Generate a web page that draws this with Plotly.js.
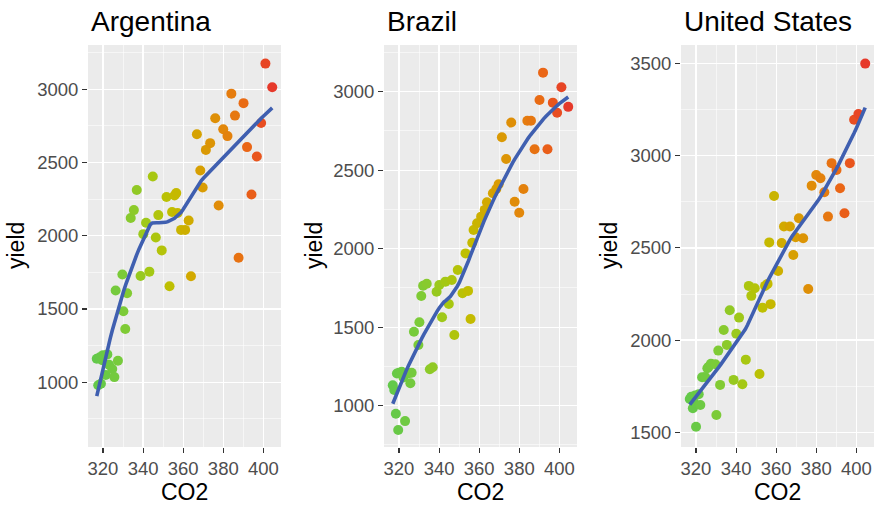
<!DOCTYPE html>
<html><head><meta charset="utf-8">
<script src="https://cdn.plot.ly/plotly-3.0.1.min.js"></script>
<style>html,body{margin:0;padding:0;background:#fff}#chart{width:876px;height:505px}</style>
</head><body><div id="chart"></div>
<script>
// ---------- data ----------
const countries = ['Argentina', 'Brazil', 'United States'];
const co2 = [316.91, 317.64, 318.45, 318.99, 319.62, 320.04, 321.37, 322.18, 323.05, 324.62,
  325.68, 326.32, 327.46, 329.68, 330.19, 331.12, 332.03, 333.84, 335.41, 336.84,
  338.76, 340.12, 341.48, 343.15, 344.85, 346.35, 347.61, 349.31, 351.69, 353.20,
  354.45, 355.70, 356.54, 357.21, 358.96, 360.97, 362.74, 363.88, 366.84, 368.54,
  369.71, 371.32, 373.45, 375.98, 377.70, 379.98, 382.09, 384.02, 385.83, 387.64,
  390.10, 391.85, 394.06, 396.74, 398.87, 401.01, 404.41];
const yieldArgentina = [1160, 980, 1170, 990, 1150, 1185, 1050, 1190, 1120, 1090,
  1035, 1626, 1147, 1735, 1485, 1364, 1608, 2121, 2175, 2312,
  1725, 2011, 2089, 1755, 2404, 1988, 2141, 1900, 2264, 1655,
  2162, 2275, 2291, 2155, 2040, 2040, 2104, 1723, 2693, 2445,
  2329, 2586, 2632, 2802, 2207, 2727, 2680, 2970, 2820, 1850,
  2905, 2605, 2282, 2541, 2770, 3175, 3014];
const yieldBrazil = [1130, 1100, 949, 1205, 845, 1210, 1216, 1180, 902, 1206,
  1143, 1210, 1471, 1387, 1531, 1699, 1764, 1777, 1232, 1245,
  1726, 1769, 1563, 1790, 1648, 1800, 1450, 1864, 1716, 1970,
  1731, 1552, 2038, 2119, 2162, 2204, 2247, 2296, 2353, 2380,
  2410, 2710, 2571, 2803, 2299, 2229, 2380, 2815, 2815, 2633,
  2947, 3121, 2633, 2930, 2866, 3028, 2903];
const yieldUS = [1680, 1693, 1630, 1660, 1700, 1530, 1706, 1648, 1798, 1800,
  1847, 1855, 1872, 1869, 1594, 1943, 1757, 2055, 1974, 2162,
  1784, 2034, 2122, 1760, 1894, 2294, 2240, 2281, 1816, 2176,
  2294, 2305, 2530, 2195, 2782, 2375, 2527, 2616, 2616, 2462,
  2558, 2661, 2553, 2277, 2838, 2896, 2878, 2802, 2670, 2960,
  2923, 2824, 2688, 2960, 3195, 3227, 3500];
const yieldSeries = [yieldArgentina, yieldBrazil, yieldUS];
const xTickVals = [320, 340, 360, 380, 400];

// ---------- style ----------
const W = 876, H = 505;
const FONT = 'Liberation Sans, Arial, Helvetica, sans-serif';
const panelsPx = [[88, 281], [384, 577], [681, 874]];
const yRanges = [[558, 3302], [737, 3297], [1420, 3601]];
const xRange = [312.535, 408.785];
const topPx = 45, botPx = 447;
const colorscale = [
  [0.00, '#63C94A'], [0.15, '#7CCB38'], [0.30, '#A4C814'], [0.43, '#C2BE00'],
  [0.56, '#D5A400'], [0.72, '#E2870A'], [0.86, '#EA6516'], [1.00, '#E6392A']];

// loess (span 0.75, degree 2) like geom_smooth default
function loess(xs, ys, span, nOut) {
  const n = xs.length, q = Math.floor(n * span);
  const xmin = Math.min(...xs), xmax = Math.max(...xs);
  const ox = [], oy = [];
  for (let k = 0; k < nOut; k++) {
    const x0 = xmin + (xmax - xmin) * k / (nOut - 1);
    const d = xs.map(x => Math.abs(x - x0));
    const h = [...d].sort((a, b) => a - b)[q - 1];
    let S = [0, 0, 0, 0, 0], T = [0, 0, 0];
    for (let i = 0; i < n; i++) {
      const r = d[i] / h;
      if (r >= 1) continue;
      const w = Math.pow(1 - r * r * r, 3);
      const u = xs[i] - x0;
      let p = 1;
      for (let j = 0; j < 5; j++) { S[j] += w * p; if (j < 3) T[j] += w * p * ys[i]; p *= u; }
    }
    const A = [[S[0], S[1], S[2], T[0]], [S[1], S[2], S[3], T[1]], [S[2], S[3], S[4], T[2]]];
    for (let c = 0; c < 3; c++) {
      let piv = c;
      for (let r = c + 1; r < 3; r++) if (Math.abs(A[r][c]) > Math.abs(A[piv][c])) piv = r;
      [A[c], A[piv]] = [A[piv], A[c]];
      for (let r = 0; r < 3; r++) if (r !== c) {
        const f = A[r][c] / A[c][c];
        for (let j = c; j < 4; j++) A[r][j] -= f * A[c][j];
      }
    }
    ox.push(x0); oy.push(A[0][3] / A[0][0]);
  }
  return [ox, oy];
}

const traces = [], layout = {
  width: W, height: H, margin: {l: 0, r: 0, t: 0, b: 0},
  paper_bgcolor: '#FFFFFF', plot_bgcolor: '#EBEBEB', showlegend: false,
  font: {family: FONT}, annotations: [], shapes: []
};
const yDomain = [1 - botPx / H, 1 - topPx / H];
const cmin = Math.min(...co2), cmax = Math.max(...co2);

countries.forEach((name, i) => {
  const sfx = i === 0 ? '' : String(i + 1);
  const xa = 'x' + sfx, ya = 'y' + sfx;
  const ys = yieldSeries[i];
  traces.push({
    type: 'scatter', mode: 'markers', x: co2, y: ys, xaxis: xa, yaxis: ya,
    marker: {size: 10, color: co2, cmin: cmin, cmax: cmax, colorscale: colorscale, showscale: false, line: {width: 0}},
    hoverinfo: 'skip'
  });
  const [lx, ly] = loess(co2, ys, 0.75, 80);
  traces.push({
    type: 'scatter', mode: 'lines', x: lx, y: ly, xaxis: xa, yaxis: ya,
    line: {color: '#3F5FB0', width: 3.6}, hoverinfo: 'skip'
  });
  const [l, r] = panelsPx[i];
  layout['xaxis' + sfx] = {
    domain: [l / W, r / W], range: xRange, anchor: ya, tickvals: xTickVals,
    showgrid: true, gridcolor: '#FFFFFF', gridwidth: 1.2, zeroline: false, showline: false,
    ticks: 'outside', ticklen: 5, tickwidth: 1.1, tickcolor: '#333333',
    tickfont: {family: FONT, size: 18.5, color: '#4D4D4D'},
    minor: {dtick: 10, tick0: 310, showgrid: true, gridcolor: '#FFFFFF', gridwidth: 0.55, ticks: ''},
    fixedrange: true
  };
  layout['yaxis' + sfx] = {
    domain: yDomain, range: yRanges[i], anchor: xa, dtick: 500, tick0: 0,
    showgrid: true, gridcolor: '#FFFFFF', gridwidth: 1.2, zeroline: false, showline: false,
    ticks: 'outside', ticklen: 5, tickwidth: 1.1, tickcolor: '#333333',
    tickfont: {family: FONT, size: 18.5, color: '#4D4D4D'},
    minor: {dtick: 250, tick0: 0, showgrid: true, gridcolor: '#FFFFFF', gridwidth: 0.55, ticks: ''},
    fixedrange: true
  };
  // panel title
  layout.annotations.push({
    text: name, xref: 'paper', yref: 'paper', x: (l + 1) / W, y: 1 - 21 / H,
    xanchor: 'left', yanchor: 'middle', showarrow: false,
    font: {family: FONT, size: 28, color: '#000000'}
  });
  // x title
  layout.annotations.push({
    text: 'CO2', xref: 'paper', yref: 'paper', x: ((l + r) / 2) / W, y: 1 - 492 / H,
    xanchor: 'center', yanchor: 'middle', showarrow: false,
    font: {family: FONT, size: 23, color: '#000000'}
  });
});
// y titles
[16, 314, 609].forEach(px => {
  layout.annotations.push({
    text: 'yield', xref: 'paper', yref: 'paper', x: px / W, y: 1 - 246 / H,
    xanchor: 'center', yanchor: 'middle', textangle: -90, showarrow: false,
    font: {family: FONT, size: 23, color: '#000000'}
  });
});

Plotly.newPlot('chart', traces, layout, {staticPlot: true, displayModeBar: false});
</script>
</body></html>
